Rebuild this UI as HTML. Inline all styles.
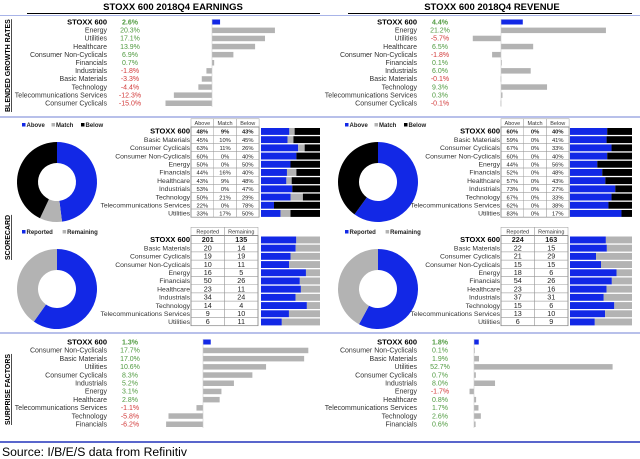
<!DOCTYPE html>
<html><head><meta charset="utf-8"><style>
html,body{margin:0;padding:0;background:#fff;}
svg{display:block;font-family:"Liberation Sans",Arial,sans-serif;}
</style></head><body>
<svg id="c" width="640" height="459" viewBox="0 0 640 459" xmlns="http://www.w3.org/2000/svg">
<text x="173" y="10" font-size="9.5" font-weight="bold" text-anchor="middle">STOXX 600 2018Q4 EARNINGS</text>
<text x="492" y="10" font-size="9.5" font-weight="bold" text-anchor="middle">STOXX 600 2018Q4 REVENUE</text>
<line x1="27" y1="13.5" x2="320" y2="13.5" stroke="#000" stroke-width="1"/>
<line x1="348" y1="13.5" x2="632" y2="13.5" stroke="#000" stroke-width="1"/>
<line x1="0" y1="15.5" x2="640" y2="15.5" stroke="#a8b4e8" stroke-width="1"/>
<line x1="0" y1="117" x2="640" y2="117" stroke="#b8c0ea" stroke-width="2"/>
<line x1="0" y1="333" x2="640" y2="333" stroke="#b8c0ea" stroke-width="2"/>
<line x1="0" y1="442" x2="640" y2="442" stroke="#2233bb" stroke-width="1.5"/>
<text x="2" y="456" font-size="12.2">Source: I/B/E/S data from Refinitiv</text>
<text transform="translate(10,112) rotate(-90)" font-size="7" font-weight="bold" text-decoration="underline">BLENDED GROWTH RATES</text>
<text transform="translate(10,260) rotate(-90)" font-size="7" font-weight="bold" text-decoration="underline">SCORECARD</text>
<text transform="translate(10,425) rotate(-90)" font-size="7" font-weight="bold" text-decoration="underline">SURPRISE FACTORS</text>
</svg>
<script>
// ---- data ----
const earnCats = ["STOXX 600","Energy","Utilities","Healthcare","Consumer Non-Cyclicals","Financials","Industrials","Basic Materials","Technology","Telecommunications Services","Consumer Cyclicals"];
const earnVals = [2.6,20.3,17.1,13.9,6.9,0.7,-1.8,-3.3,-4.4,-12.3,-15.0];
const revCats = ["STOXX 600","Energy","Utilities","Healthcare","Consumer Non-Cyclicals","Financials","Industrials","Basic Materials","Technology","Telecommunications Services","Consumer Cyclicals"];
const revVals = [4.4,21.2,-5.7,6.5,-1.8,0.1,6.0,-0.1,9.3,0.3,-0.1];
const scoreCats = ["STOXX 600","Basic Materials","Consumer Cyclicals","Consumer Non-Cyclicals","Energy","Financials","Healthcare","Industrials","Technology","Telecommunications Services","Utilities"];
const earnAbove = [48,45,63,60,50,44,43,53,50,22,33];
const earnMatch = [9,10,11,0,0,16,9,0,21,0,17];
const earnBelow = [43,45,26,40,50,40,48,47,29,78,50];
const revAbove = [60,59,67,60,44,52,57,73,67,62,83];
const revMatch = [0,0,0,0,0,0,0,0,0,0,0];
const revBelow = [40,41,33,40,56,48,43,27,33,38,17];
const earnReported = [201,20,19,10,16,50,23,34,14,9,6];
const earnRemaining = [135,14,19,11,5,26,11,24,4,10,11];
const revReported = [224,22,21,15,18,54,23,37,15,13,6];
const revRemaining = [163,15,29,15,6,26,16,31,6,10,9];
const surpEarnCats = ["STOXX 600","Consumer Non-Cyclicals","Basic Materials","Utilities","Consumer Cyclicals","Industrials","Energy","Healthcare","Telecommunications Services","Technology","Financials"];
const surpEarnVals = [1.3,17.7,17.0,10.6,8.3,5.2,3.1,2.8,-1.1,-5.8,-6.2];
const surpRevCats = ["STOXX 600","Consumer Non-Cyclicals","Basic Materials","Utilities","Consumer Cyclicals","Industrials","Energy","Healthcare","Telecommunications Services","Technology","Financials"];
const surpRevVals = [1.8,0.1,1.9,52.7,0.7,8.0,-1.7,0.8,1.7,2.6,0.6];

const svg = document.getElementById('c');
const NS = 'http://www.w3.org/2000/svg';
const BLUE = '#1228e6', GRAY = '#b3b3b3', GREEN = '#4f9a3f', RED = '#d23a3a';
function mk(tag, attrs) { const e = document.createElementNS(NS, tag); for (const k in attrs) e.setAttribute(k, attrs[k]); svg.appendChild(e); return e; }
function txt(x, y, s, size, anchor, fill, bold) {
  const t = mk('text', {x: x, y: y, 'font-size': size, 'text-anchor': anchor, fill: fill || '#222'});
  if (bold) t.setAttribute('font-weight', 'bold');
  t.textContent = s; return t;
}

function growthChart(prefix, cats, vals, y0, dy, labelX, valX, zeroX, scale) {
  const xs = v => zeroX + v * scale;
  cats.forEach((c, i) => {
    const y = y0 + i * dy;
    const lab = txt(labelX, y + 2.5, c, i === 0 ? 7.5 : 7, 'end', i === 0 ? '#000' : '#333', i === 0);
    
    
    const v = vals[i];
    const vt = txt(valX, y + 2.5, v.toFixed(1) + '%', 7, 'middle', v < 0 ? RED : GREEN, i === 0);
    
    
    const x1 = Math.min(xs(0), xs(v)), w = Math.max(Math.abs(xs(v) - xs(0)), 0.8);
    const r = mk('rect', {x: x1, y: y - 2.5, width: w, height: i === 0 ? 5 : 5.5, fill: i === 0 ? BLUE : GRAY});
    
    
  });
  const ax = mk('line', {x1: xs(0), x2: xs(0), y1: y0 - 3, y2: y0 + (cats.length - 1) * dy + 4, stroke: '#ccc', 'stroke-width': 0.6});
  
  
}

function donut(prefix, cx, cy, vals, colors) {
  const tot = vals.reduce((a, b) => a + b, 0);
  let a = 0; const R = 40, r = 19;
  vals.forEach((v, i) => {
    if (v <= 0) return;
    const a1 = a, a2 = a + v / tot * Math.PI * 2; a = a2;
    const p = (ang, rad) => [cx + rad * Math.sin(ang), cy - rad * Math.cos(ang)];
    const large = a2 - a1 > Math.PI ? 1 : 0;
    const [x1, y1] = p(a1, R), [x2, y2] = p(a2 - 1e-4, R), [x3, y3] = p(a2 - 1e-4, r), [x4, y4] = p(a1, r);
    const path = mk('path', {d: `M${x1},${y1}A${R},${R} 0 ${large} 1 ${x2},${y2}L${x3},${y3}A${r},${r} 0 ${large} 0 ${x4},${y4}Z`, fill: colors[i]});
    
    
  });
}

function legend(prefix, x, y, items, colors) {
  let cx = x;
  items.forEach((s, i) => {
    const sq = mk('rect', {x: cx, y: y - 4, width: 3.5, height: 3.5, fill: colors[i]});
    
    
    const t = txt(cx + 4.5, y, s, 6, 'start', '#222', true);
    
    
    cx += s.length * 3.7 + 11;
  });
}

function scoreTable(prefix, labelX, y0, dy, headers, cols, colW, barX, barW, pct) {
  const hdrY = y0 - dy - 1;
  headers.forEach((h, j) => {
    const hr = mk('rect', {x: labelX + j * colW, y: hdrY, width: colW, height: dy, fill: '#fff', stroke: '#999', 'stroke-width': 0.5});
    
    
    const ht = txt(labelX + j * colW + colW / 2, hdrY + dy - 2, h, 5.5, 'middle', '#333');
    
    
  });
  const box = mk('rect', {x: labelX, y: y0 - 1, width: colW * headers.length, height: dy * scoreCats.length, fill: 'none', stroke: '#666', 'stroke-width': 0.7});
  
  
  scoreCats.forEach((c, i) => {
    const y = y0 + i * dy;
    const lab = txt(labelX - 1, y + dy - 2.5, c, i === 0 ? 7.5 : 6.8, 'end', i === 0 ? '#000' : '#333', i === 0);
    
    
    cols.forEach((arr, j) => {
      const cell = mk('rect', {x: labelX + j * colW, y: y - 1, width: colW, height: dy, fill: 'none', stroke: '#999', 'stroke-width': 0.4});
      
      
      const t = txt(labelX + j * colW + colW / 2, y + dy - 2.5, pct ? arr[i] + '%' : String(arr[i]), pct ? 5.8 : 7.2, 'middle', '#222', i === 0);
      
      
    });
  });
}

function stackBars(prefix, x, y0, dy, w, series, colors) {
  scoreCats.forEach((c, i) => {
    const tot = series.reduce((s, a) => s + a[i], 0);
    let cx = x;
    series.forEach((arr, j) => {
      const bw = arr[i] / tot * w;
      if (bw <= 0) return;
      const r = mk('rect', {x: cx, y: y0 + i * dy, width: bw, height: dy - 1.3, fill: colors[j]});
      
      
      cx += bw;
    });
  });
}

growthChart('earnings-growth', earnCats, earnVals, 22, 8.1, 107, 130, 212, 3.1);
growthChart('revenue-growth', revCats, revVals, 22, 8.1, 417, 440, 501, 4.95);

const c3 = [BLUE, GRAY, '#000'];
legend('earnings-beat', 22, 127, ['Above', 'Match', 'Below'], c3);
legend('revenue-beat', 345, 127, ['Above', 'Match', 'Below'], c3);
donut('earnings-beat-donut', 57, 182, [earnAbove[0], earnMatch[0], earnBelow[0]], c3);
donut('revenue-beat-donut', 378, 182, [revAbove[0], revMatch[0], revBelow[0]], c3);
scoreTable('earnings-beat', 191, 128, 8.2, ['Above', 'Match', 'Below'], [earnAbove, earnMatch, earnBelow], 22.7, 0, 0, true);
scoreTable('revenue-beat', 501, 128, 8.2, ['Above', 'Match', 'Below'], [revAbove, revMatch, revBelow], 22.7, 0, 0, true);
stackBars('earnings-beat', 261, 128, 8.2, 59, [earnAbove, earnMatch, earnBelow], c3);
stackBars('revenue-beat', 570, 128, 8.2, 62, [revAbove, revMatch, revBelow], c3);

const c2 = [BLUE, GRAY];
legend('earnings-reported', 22, 234, ['Reported', 'Remaining'], c2);
legend('revenue-reported', 345, 234, ['Reported', 'Remaining'], c2);
donut('earnings-reported-donut', 57, 289, [earnReported[0], earnRemaining[0]], c2);
donut('revenue-reported-donut', 378, 289, [revReported[0], revRemaining[0]], c2);
scoreTable('earnings-reported', 191, 236.5, 8.2, ['Reported', 'Remaining'], [earnReported, earnRemaining], 33.5, 0, 0, false);
scoreTable('revenue-reported', 501, 236.5, 8.2, ['Reported', 'Remaining'], [revReported, revRemaining], 33.5, 0, 0, false);
stackBars('earnings-reported', 261, 236.5, 8.2, 59, [earnReported, earnRemaining], c2);
stackBars('revenue-reported', 570, 236.5, 8.2, 62, [revReported, revRemaining], c2);

growthChart('earnings-surprise', surpEarnCats, surpEarnVals, 342, 8.2, 107, 130, 203, 5.95);
growthChart('revenue-surprise', surpRevCats, surpRevVals, 342, 8.2, 417, 440, 474, 2.63);
</script>
</body></html>
